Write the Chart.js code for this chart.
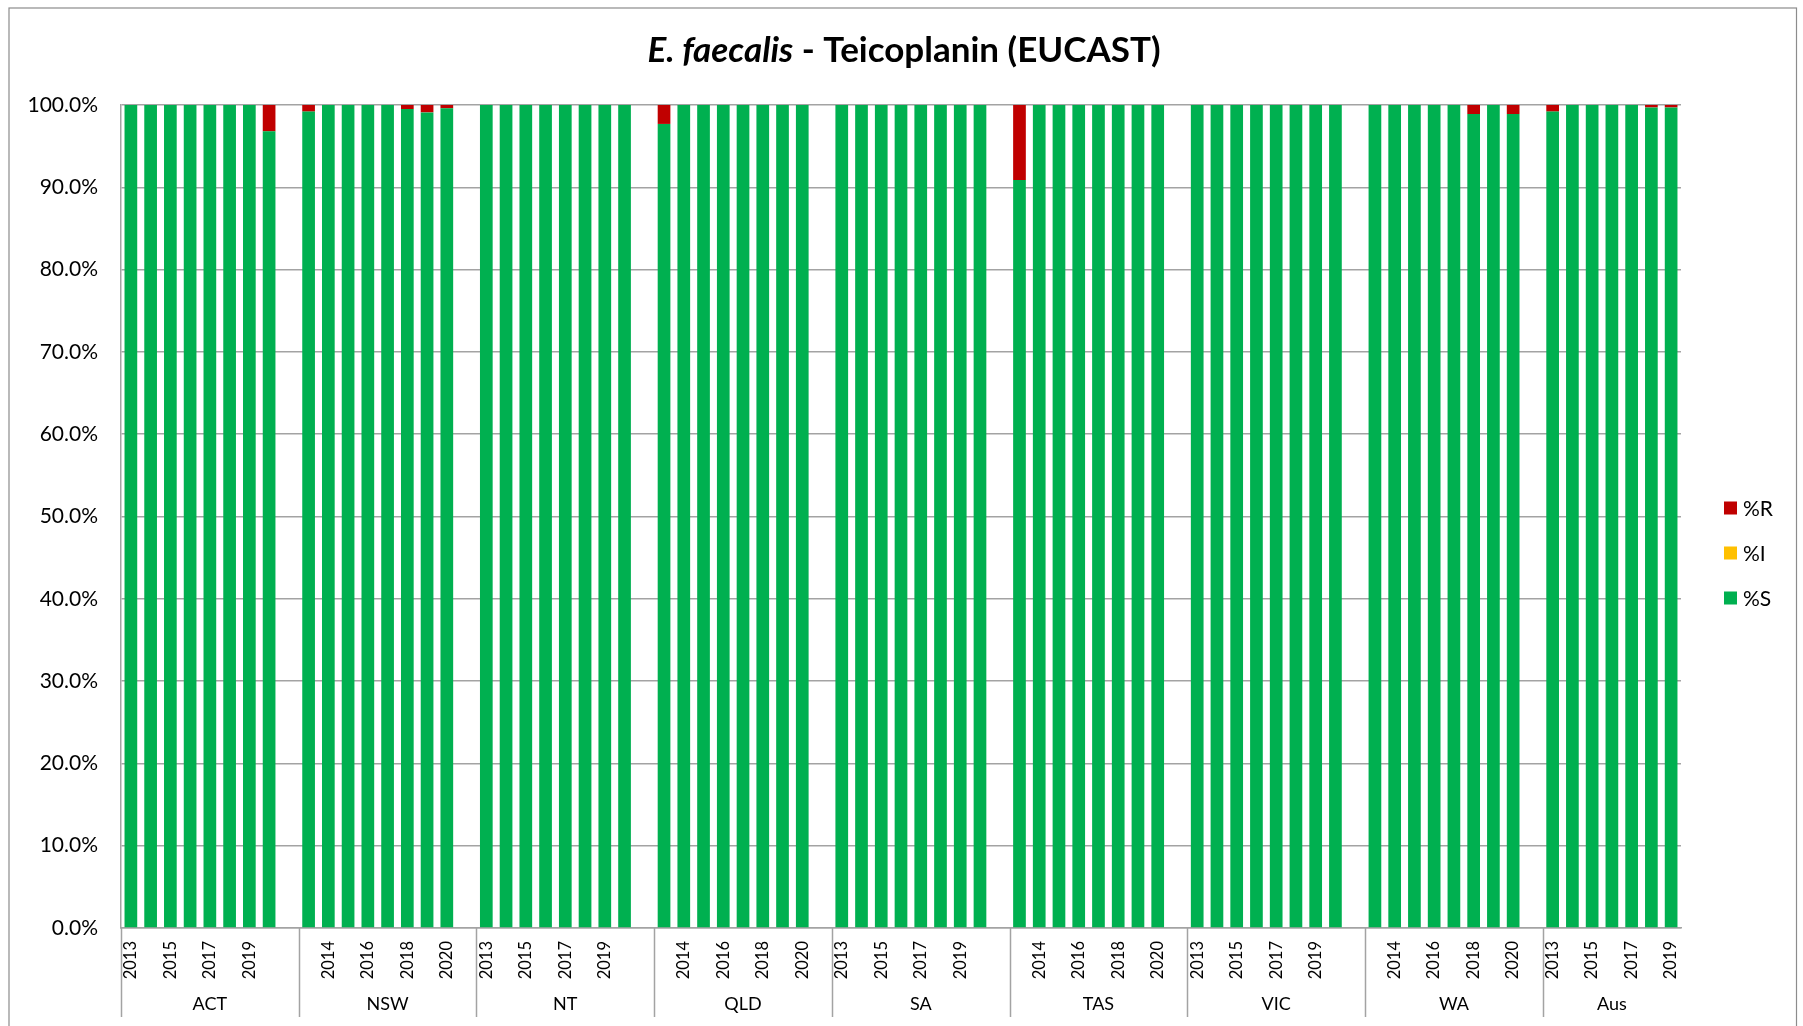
<!DOCTYPE html>
<html>
<head>
<meta charset="utf-8">
<script src="https://cdn.jsdelivr.net/npm/chart.js@4"></script>
<style>
  html, body { margin: 0; padding: 0; background: #fff; }
  #wrap { position: relative; width: 1803px; height: 1026px; }
</style>
</head>
<body>
<div id="wrap"><canvas id="chart"></canvas></div>
<script>
// Regions (one group of bars each) and the survey years
const groups = ['ACT', 'NSW', 'NT', 'QLD', 'SA', 'TAS', 'VIC', 'WA', 'Aus'];
const years = ['2013', '2014', '2015', '2016', '2017', '2018', '2019', '2020'];

// Percent susceptible, one row per region, one value per year
const pctS = [
  [100, 100, 100, 100, 100, 100, 100, 96.8],
  [99.2, 100, 100, 100, 100, 99.5, 99.1, 99.6],
  [100, 100, 100, 100, 100, 100, 100, 100],
  [97.7, 100, 100, 100, 100, 100, 100, 100],
  [100, 100, 100, 100, 100, 100, 100, 100],
  [90.9, 100, 100, 100, 100, 100, 100, 100],
  [100, 100, 100, 100, 100, 100, 100, 100],
  [100, 100, 100, 100, 100, 98.9, 100, 98.9],
  [99.2, 100, 100, 100, 100, 99.7, 99.7]
];

// Percent intermediate
const pctI = [
  [0, 0, 0, 0, 0, 0, 0, 0],
  [0, 0, 0, 0, 0, 0, 0, 0],
  [0, 0, 0, 0, 0, 0, 0, 0],
  [0, 0, 0, 0, 0, 0, 0, 0],
  [0, 0, 0, 0, 0, 0, 0, 0],
  [0, 0, 0, 0, 0, 0, 0, 0],
  [0, 0, 0, 0, 0, 0, 0, 0],
  [0, 0, 0, 0, 0, 0, 0, 0],
  [0, 0, 0, 0, 0, 0, 0]
];

// Percent resistant
const pctR = [
  [0, 0, 0, 0, 0, 0, 0, 3.2],
  [0.8, 0, 0, 0, 0, 0.5, 0.9, 0.4],
  [0, 0, 0, 0, 0, 0, 0, 0],
  [2.3, 0, 0, 0, 0, 0, 0, 0],
  [0, 0, 0, 0, 0, 0, 0, 0],
  [9.1, 0, 0, 0, 0, 0, 0, 0],
  [0, 0, 0, 0, 0, 0, 0, 0],
  [0, 0, 0, 0, 0, 1.1, 0, 1.1],
  [0.8, 0, 0, 0, 0, 0.3, 0.3]
];

const yTicks = [0, 10, 20, 30, 40, 50, 60, 70, 80, 90, 100];

const FONT = 'Lato, "Open Sans", sans-serif';
const GRID = '#a3a3a3';
const COLORS = { S: '#00B050', I: '#FFC000', R: '#C00000' };

// Flatten the regions onto one category axis, leaving an empty slot between regions
const labels = [], dataS = [], dataI = [], dataR = [], groupStart = [];
groups.forEach((g, gi) => {
  groupStart.push(labels.length);
  pctS[gi].forEach((v, j) => {
    labels.push(years[j]);
    dataS.push(v);
    dataI.push(pctI[gi][j]);
    dataR.push(pctR[gi][j]);
  });
  if (gi < groups.length - 1) {
    labels.push('');
    dataS.push(null); dataI.push(null); dataR.push(null);
  }
});

// Frame, title, legend and the second (region) level of the category axis
const decorations = {
  id: 'decorations',
  afterDraw(chart) {
    const ctx = chart.ctx;
    const x = chart.scales.x;
    const area = chart.chartArea;
    ctx.save();

    // outer frame
    ctx.strokeStyle = '#8c8c8c';
    ctx.lineWidth = 1.2;
    ctx.strokeRect(9, 8, 1787.5, 1030);

    // title: italic organism name followed by the bold drug name
    const part1 = 'E. faecalis';
    const part2 = ' - Teicoplanin (EUCAST)';
    const f1 = 'italic bold 35px ' + FONT;
    const f2 = 'bold 35px ' + FONT;
    ctx.font = f1; const w1 = ctx.measureText(part1).width;
    ctx.font = f2; const w2 = ctx.measureText(part2).width;
    const tx = 904 - (w1 + w2) / 2;
    ctx.fillStyle = '#000';
    ctx.textBaseline = 'alphabetic';
    ctx.textAlign = 'left';
    ctx.font = f1; ctx.fillText(part1, tx, 62);
    ctx.font = f2; ctx.fillText(part2, tx + w1, 62);

    // region separators and region names
    const slot = x.getPixelForValue(1) - x.getPixelForValue(0);
    ctx.strokeStyle = GRID;
    ctx.lineWidth = 1.5;
    ctx.font = '18px ' + FONT;
    ctx.textAlign = 'center';
    ctx.textBaseline = 'middle';
    groups.forEach((g, gi) => {
      const left = x.getPixelForValue(groupStart[gi]) - slot / 2;
      const right = gi < groups.length - 1
        ? x.getPixelForValue(groupStart[gi + 1]) - slot / 2
        : area.right;
      ctx.beginPath();
      ctx.moveTo(Math.round(left) + 0.5, area.bottom);
      ctx.lineTo(Math.round(left) + 0.5, 1017);
      ctx.stroke();
      ctx.fillStyle = '#000';
      ctx.fillText(g, (left + right) / 2, 1004);
    });

    // legend, top to bottom in reverse stacking order
    const items = chart.data.datasets.slice().reverse();
    ctx.textAlign = 'left';
    ctx.font = '21px ' + FONT;
    items.forEach((ds, k) => {
      const cy = 508 + k * 45;
      ctx.fillStyle = ds.backgroundColor;
      ctx.fillRect(1724, cy - 6.5, 13, 13);
      ctx.fillStyle = '#000';
      ctx.fillText(ds.label, 1743, cy + 1);
    });
    ctx.restore();
  }
};

const barShape = { categoryPercentage: 1.0, barPercentage: 0.643, borderWidth: 0 };

new Chart(document.getElementById('chart'), {
  type: 'bar',
  data: {
    labels: labels,
    datasets: [
      Object.assign({ label: '%S', data: dataS, backgroundColor: COLORS.S }, barShape),
      Object.assign({ label: '%I', data: dataI, backgroundColor: COLORS.I }, barShape),
      Object.assign({ label: '%R', data: dataR, backgroundColor: COLORS.R }, barShape)
    ]
  },
  options: {
    responsive: true,
    maintainAspectRatio: false,
    animation: false,
    layout: { padding: { top: 105, right: 122, bottom: 0, left: 0 } },
    plugins: {
      legend: { display: false },
      title: { display: false },
      tooltip: { enabled: false }
    },
    scales: {
      x: {
        stacked: true,
        offset: true,
        grid: { display: false, drawTicks: false },
        border: { display: true, color: GRID, width: 1.5 },
        ticks: {
          autoSkip: false,
          minRotation: 90,
          maxRotation: 90,
          padding: 13,
          color: '#000',
          font: { family: FONT, size: 16.5 },
          callback: function (v, i) { return i % 2 === 0 ? this.getLabelForValue(v) : ''; }
        },
        afterFit: (s) => { s.height = 98; }
      },
      y: {
        stacked: true,
        min: yTicks[0],
        max: yTicks[yTicks.length - 1],
        afterBuildTicks: (s) => { s.ticks = yTicks.map(v => ({ value: v })); },
        grid: { color: GRID, lineWidth: 1.5, drawTicks: false },
        border: { display: true, color: GRID, width: 1.5 },
        ticks: {
          padding: 23,
          color: '#000',
          font: { family: FONT, size: 21 },
          callback: (v) => Number(v).toFixed(1) + '%'
        },
        afterFit: (s) => { s.width = 121; }
      }
    }
  },
  plugins: [decorations]
});
</script>
</body>
</html>
